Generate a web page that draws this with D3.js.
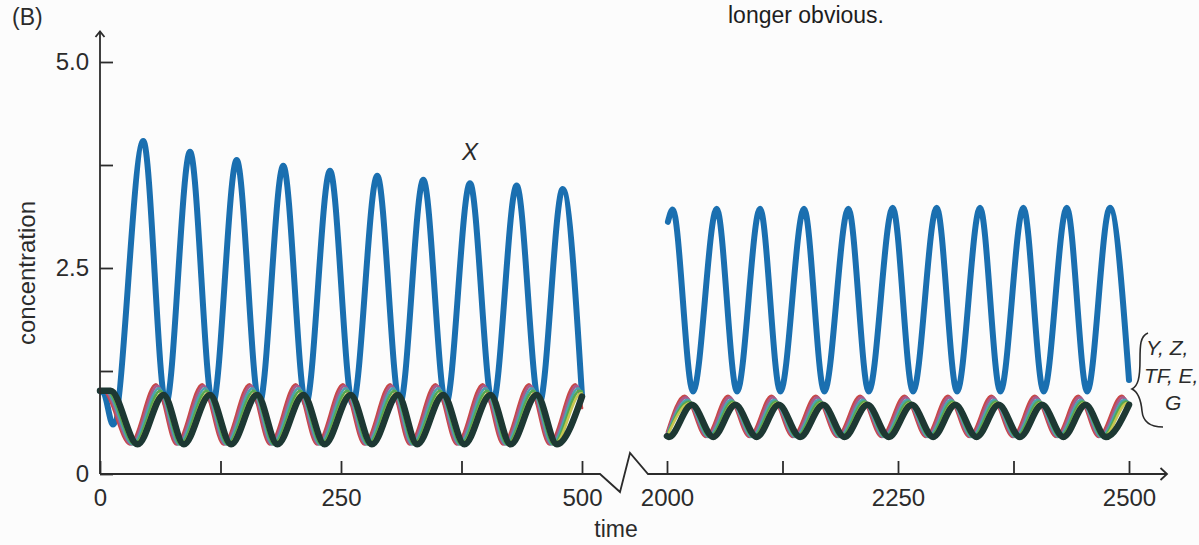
<!DOCTYPE html>
<html><head><meta charset="utf-8">
<script src="https://cdn.jsdelivr.net/npm/d3@7"></script>
<style>
html,body{margin:0;padding:0;background:#fcfcfc;}
svg{display:block;font-family:"Liberation Sans",Arial,sans-serif;}
</style></head><body>
<svg id="chart" width="1199" height="545"></svg>
<script>
// ---------- axis data ----------
const xTicks1 = [0,125,250,375,500];
const xTickLabels1 = ["0","","250","","500"];
const xTicks2 = [2000,2125,2250,2375,2500];
const xTickLabels2 = ["2000","","2250","","2500"];
const yTicks = [0,1.25,2.5,3.75,5];
const yTickLabels = ["0","","2.5","","5.0"];

// ---------- X (blue) ----------
const xT1 = [0,4,13.5,44.9,68.4,93.4,116.9,141.8,165.3,190.1,213.6,238.6,262.1,287.6,311.1,335.4,358.9,383.8,407.3,432.2,455.7,480.0,500];
const xV1 = [1.01,0.98,0.6,4.04,0.85,3.91,0.85,3.81,0.85,3.74,0.85,3.68,0.85,3.62,0.85,3.57,0.85,3.53,0.85,3.50,0.85,3.46,0.95];
const xT2 = [2001,2006.2,2028.2,2053.8,2075.8,2100.7,2122.7,2148.3,2170.3,2196.3,2218.3,2244.3,2266.3,2291.9,2313.9,2338.8,2360.8,2385.7,2407.7,2432.7,2454.7,2479.3,2500];
const xV2 = [3.06,3.21,1.0,3.22,1.0,3.22,1.0,3.22,1.0,3.22,1.0,3.23,1.0,3.23,1.0,3.23,1.0,3.23,1.0,3.23,1.0,3.23,1.14];

// ---------- bundle Y, Z, TF, E, G (segment 1: t 0-500) ----------
const redT1 = [0,3,31,58,79,106,128,155,176,203,225,252,274,301,321,348,370,397,418,445,466,493,500];
const redV1 = [1.01,1.01,0.36,1.09,0.36,1.09,0.36,1.09,0.36,1.09,0.36,1.09,0.36,1.09,0.36,1.09,0.36,1.09,0.36,1.09,0.36,1.09,0.80];
const magT1 = [0,4.5,32.5,59.5,80.5,107.5,129.5,156.5,177.5,204.5,226.5,253.5,275.5,302.5,322.5,349.5,371.5,398.5,419.5,446.5,467.5,494.5,500];
const magV1 = [1.01,1.01,0.36,1.07,0.36,1.07,0.36,1.07,0.36,1.07,0.36,1.07,0.36,1.07,0.36,1.07,0.36,1.07,0.36,1.07,0.36,1.07,0.88];
const cyaT1 = [0,6,34,61,82,109,131,158,179,206,228,255,277,304,324,351,373,400,421,448,469,496,500];
const cyaV1 = [1.01,1.01,0.36,1.04,0.36,1.04,0.36,1.04,0.36,1.04,0.36,1.04,0.36,1.04,0.36,1.04,0.36,1.04,0.36,1.04,0.36,1.04,0.97];
const grnT1 = [0,7.5,35.5,62.5,83.5,110.5,132.5,159.5,180.5,207.5,229.5,256.5,278.5,305.5,325.5,352.5,374.5,401.5,422.5,449.5,470.5,497.5,500];
const grnV1 = [1.01,1.01,0.36,1.01,0.36,1.01,0.36,1.01,0.36,1.01,0.36,1.01,0.36,1.01,0.36,1.01,0.36,1.01,0.36,1.01,0.36,1.01,1.0];
const ylwT1 = [0,9,37,64,85,112,134,161,182,209,231,258,280,307,327,354,376,403,424,451,472,499,500];
const ylwV1 = [1.01,1.01,0.36,0.98,0.36,0.98,0.36,0.98,0.36,0.98,0.36,0.98,0.36,0.98,0.36,0.98,0.36,0.98,0.36,0.98,0.36,0.98,0.975];
const drkT1 = [0,11,39,66,87,114,136,163,184,211,233,260,282,309,329,356,378,405,426,453,474,500];
const drkV1 = [1.01,1.01,0.36,0.96,0.36,0.96,0.36,0.96,0.36,0.96,0.36,0.96,0.36,0.96,0.36,0.96,0.36,0.96,0.36,0.96,0.36,0.94];

// ---------- bundle (segment 2: t 2000-2500) ----------
const redT2 = [2000,2019,2042,2066,2089,2113,2136,2161,2184,2209,2232,2257,2280,2304,2327,2351,2374,2398,2421,2445,2467,2492,2500];
const redV2 = [0.51,0.95,0.45,0.95,0.45,0.95,0.45,0.95,0.45,0.95,0.45,0.95,0.45,0.95,0.45,0.95,0.45,0.95,0.45,0.95,0.45,0.95,0.81];
const magT2 = [2000,2020.5,2043.5,2067.5,2090.5,2114.5,2137.5,2162.5,2185.5,2210.5,2233.5,2258.5,2281.5,2305.5,2328.5,2352.5,2375.5,2399.5,2422.5,2446.5,2468.5,2493.5,2500];
const magV2 = [0.49,0.93,0.45,0.93,0.45,0.93,0.45,0.93,0.45,0.93,0.45,0.93,0.45,0.93,0.45,0.93,0.45,0.93,0.45,0.93,0.45,0.93,0.84];
const cyaT2 = [2000,2022,2045,2069,2092,2116,2139,2164,2187,2212,2235,2260,2283,2307,2330,2354,2377,2401,2424,2448,2470,2495,2500];
const cyaV2 = [0.47,0.90,0.45,0.90,0.45,0.90,0.45,0.90,0.45,0.90,0.45,0.90,0.45,0.90,0.45,0.90,0.45,0.90,0.45,0.90,0.45,0.90,0.86];
const grnT2 = [2000,2023.5,2046.5,2070.5,2093.5,2117.5,2140.5,2165.5,2188.5,2213.5,2236.5,2261.5,2284.5,2308.5,2331.5,2355.5,2378.5,2402.5,2425.5,2449.5,2471.5,2496.5,2500];
const grnV2 = [0.46,0.88,0.45,0.88,0.45,0.88,0.45,0.88,0.45,0.88,0.45,0.88,0.45,0.88,0.45,0.88,0.45,0.88,0.45,0.88,0.45,0.88,0.86];
const ylwT2 = [2000,2025,2048,2072,2095,2119,2142,2167,2190,2215,2238,2263,2286,2310,2333,2357,2380,2404,2427,2451,2473,2498,2500];
const ylwV2 = [0.45,0.86,0.45,0.86,0.45,0.86,0.45,0.86,0.45,0.86,0.45,0.86,0.45,0.86,0.45,0.86,0.45,0.86,0.45,0.86,0.45,0.86,0.855];
const drkT2 = [2000,2002,2027,2050,2074,2097,2121,2144,2169,2192,2217,2240,2265,2288,2312,2335,2359,2382,2406,2429,2453,2475,2500];
const drkV2 = [0.46,0.45,0.84,0.45,0.84,0.45,0.84,0.45,0.84,0.45,0.84,0.45,0.84,0.45,0.84,0.45,0.84,0.45,0.84,0.45,0.84,0.45,0.84];

// ---------- scales ----------
const svg = d3.select("#chart");
const x1 = d3.scaleLinear().domain([0,500]).range([100,582]);
const x2 = d3.scaleLinear().domain([2000,2500]).range([667,1129]);
const y = d3.scaleLinear().domain([0,5]).range([474,62]);
const ink = "#2b2b2b";

function drawSeries(T, V, xs, color, w) {
  const pts = T.map((t,i)=>[t,V[i]]);
  const line = d3.line().x(d=>xs(d[0])).y(d=>y(d[1])).curve(d3.curveMonotoneX);
  svg.append("path").attr("d", line(pts)).attr("fill","none")
    .attr("stroke",color).attr("stroke-width",w)
    .attr("stroke-linecap","round").attr("stroke-linejoin","round");
}

// blue X
drawSeries(xT1, xV1, x1, "#1a6fb0", 6);
drawSeries(xT2, xV2, x2, "#1a6fb0", 6);

// bundle, leading to lagging
const bundle = [
  [redT1, redV1, redT2, redV2, "#c84848", 2.6],
  [magT1, magV1, magT2, magV2, "#a85a8c", 2.6],
  [cyaT1, cyaV1, cyaT2, cyaV2, "#4aa2b0", 2.6],
  [grnT1, grnV1, grnT2, grnV2, "#55a850", 2.6],
  [ylwT1, ylwV1, ylwT2, ylwV2, "#c6c650", 2.6],
  [drkT1, drkV1, drkT2, drkV2, "#1d3833", 6.5]
];
bundle.forEach(s => {
  drawSeries(s[0], s[1], x1, s[4], s[5]);
  drawSeries(s[2], s[3], x2, s[4], s[5]);
});

// ---------- axes ----------
const y0 = y(0);
function styleAxis(sel) {
  sel.select(".domain").remove();
  sel.selectAll(".tick line").attr("stroke", ink).attr("stroke-width", 1.8);
  sel.selectAll(".tick text").attr("fill", ink).style("font-size","24px")
     .style("font-family","'Liberation Sans',Arial,sans-serif");
}
svg.append("g").attr("transform","translate(100,0)")
  .call(d3.axisLeft(y).tickValues(yTicks).tickFormat((d,i)=>yTickLabels[i])
        .tickSizeInner(-13).tickSizeOuter(0).tickPadding(11))
  .call(styleAxis);
svg.append("g").attr("transform",`translate(0,${y0})`)
  .call(d3.axisBottom(x1).tickValues(xTicks1).tickFormat((d,i)=>xTickLabels1[i])
        .tickSizeInner(-13).tickSizeOuter(0).tickPadding(15))
  .call(styleAxis);
svg.append("g").attr("transform",`translate(0,${y0})`)
  .call(d3.axisBottom(x2).tickValues(xTicks2).tickFormat((d,i)=>xTickLabels2[i])
        .tickSizeInner(-13).tickSizeOuter(0).tickPadding(15))
  .call(styleAxis);

// axis lines with arrows and break
const ax = svg.append("g").attr("fill","none").attr("stroke",ink).attr("stroke-width",1.8)
  .attr("stroke-linejoin","miter");
ax.append("path").attr("d",`M${x1(0)},${y0}V31.5`);
ax.append("path").attr("d",`M95.5,37L${x1(0)},31.5L104.5,37`);
ax.append("path").attr("d",`M${x1(0)},${y0}H600L620,492L630,453L648,${y0}H1167`);
ax.append("path").attr("d",`M1160.5,${y0-6}L1167,${y0}L1160.5,${y0+6}`);

// ---------- text ----------
svg.append("text").attr("x",12).attr("y",25).attr("fill",ink).style("font-size","23px").text("(B)");
svg.append("text").attr("transform","translate(35,273) rotate(-90)").attr("text-anchor","middle")
  .attr("fill",ink).style("font-size","24px").text("concentration");
svg.append("text").attr("x",616).attr("y",537).attr("text-anchor","middle")
  .attr("fill",ink).style("font-size","23px").text("time");
svg.append("text").attr("x",470).attr("y",160).attr("text-anchor","middle")
  .attr("fill",ink).style("font-size","24px").style("font-style","italic").text("X");
svg.append("text").attr("x",728).attr("y",23).attr("fill","#1e1e1e")
  .style("font-size","23px").text("longer obvious.");

// bundle label with brace
svg.append("path").attr("fill","none").attr("stroke",ink).attr("stroke-width",1.6)
  .attr("d","M1148,333C1140,336 1140,346 1140,360C1140,378 1138,386 1132,389C1138,392 1141,400 1142,411C1143,422 1150,427 1163,427");
const lab = svg.append("g").attr("fill",ink).style("font-size","21px").style("font-style","italic");
lab.append("text").attr("x",1146).attr("y",355).text("Y, Z,");
lab.append("text").attr("x",1144).attr("y",383).text("TF, E,");
lab.append("text").attr("x",1165).attr("y",410).text("G");
</script>
</body></html>
